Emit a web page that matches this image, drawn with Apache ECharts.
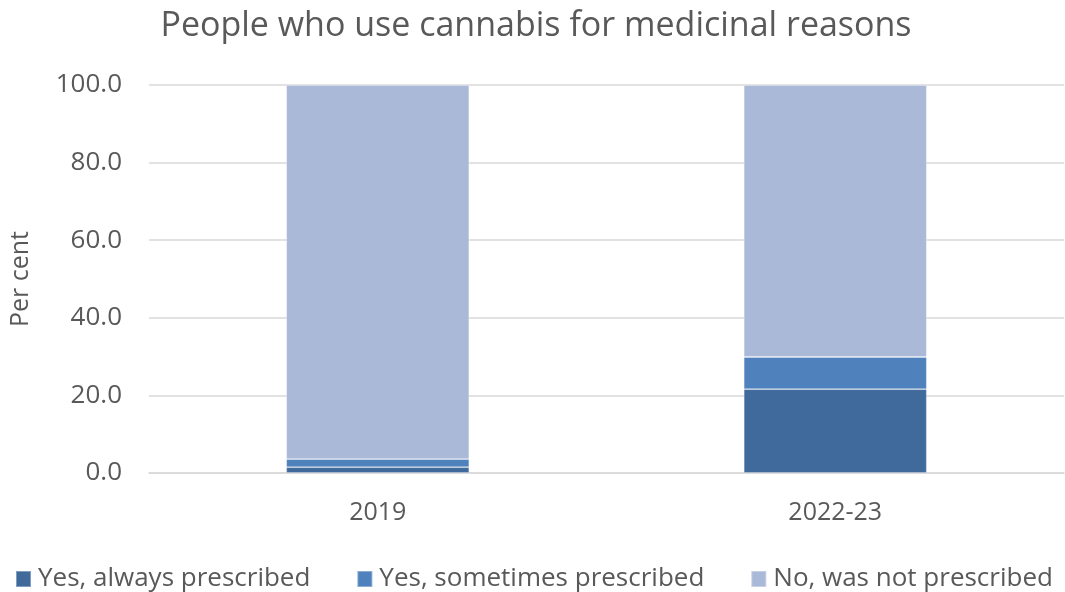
<!DOCTYPE html>
<html><head><meta charset="utf-8">
<script src="https://cdn.jsdelivr.net/npm/echarts@6/dist/echarts.min.js"></script>
<style>html,body{margin:0;padding:0;background:#fff}#c{width:1065px;height:592px}</style>
</head><body><div id="c"></div>
<script>
const categories = ['2019', '2022-23'];
const alwaysPrescribed = [1.5, 21.6];
const sometimesPrescribed = [2.1, 8.3];
const notPrescribed = [96.4, 70.1];
const seriesNames = ['Yes, always prescribed', 'Yes, sometimes prescribed', 'No, was not prescribed'];
const colors = ['#406a9c', '#4f81bd', '#aab9d7'];
const FONT = 'Open Sans';
const chart = echarts.init(document.getElementById('c'));
const mk = (name, data, color) => ({
  name, type: 'bar', stack: 'total', data, barWidth: 183,
  itemStyle: { color, borderColor: 'rgba(255,255,255,0.35)', borderWidth: 0.8 }
});
chart.setOption({
  animation: false,
  color: colors,
  title: { text: 'People who use cannabis for medicinal reasons', left: 531, top: 4, textAlign: 'center',
    textStyle: { fontFamily: FONT, fontSize: 34, fontWeight: 'normal', color: '#595959' } },
  legend: { top: 566, left: 15, width: 1100, padding: 0, itemWidth: 15, itemHeight: 16, itemGap: 46, icon: 'rect',
    textStyle: { fontFamily: FONT, fontSize: 26, color: '#595959', padding: [0, 0, 0, 2] } },
  grid: { left: 144, right: 1, top: 85, bottom: 119 },
  xAxis: { type: 'category', data: categories,
    axisLine: { lineStyle: { color: '#d9d9d9', width: 1.5 } }, axisTick: { show: false },
    axisLabel: { fontFamily: FONT, fontSize: 25, color: '#595959', margin: 27 } },
  yAxis: { type: 'value', min: 0, max: 100, interval: 20, name: 'Per cent', nameLocation: 'middle', nameGap: 116,
    nameTextStyle: { fontFamily: FONT, fontSize: 25, color: '#595959' },
    axisLine: { show: false }, axisTick: { show: false },
    splitLine: { lineStyle: { color: '#d9d9d9', width: 1.5 } },
    axisLabel: { fontFamily: FONT, fontSize: 26, color: '#595959', margin: 27, formatter: v => v.toFixed(1) } },
  series: [
    mk(seriesNames[0], alwaysPrescribed, colors[0]),
    mk(seriesNames[1], sometimesPrescribed, colors[1]),
    mk(seriesNames[2], notPrescribed, colors[2])
  ]
});
</script></body></html>
